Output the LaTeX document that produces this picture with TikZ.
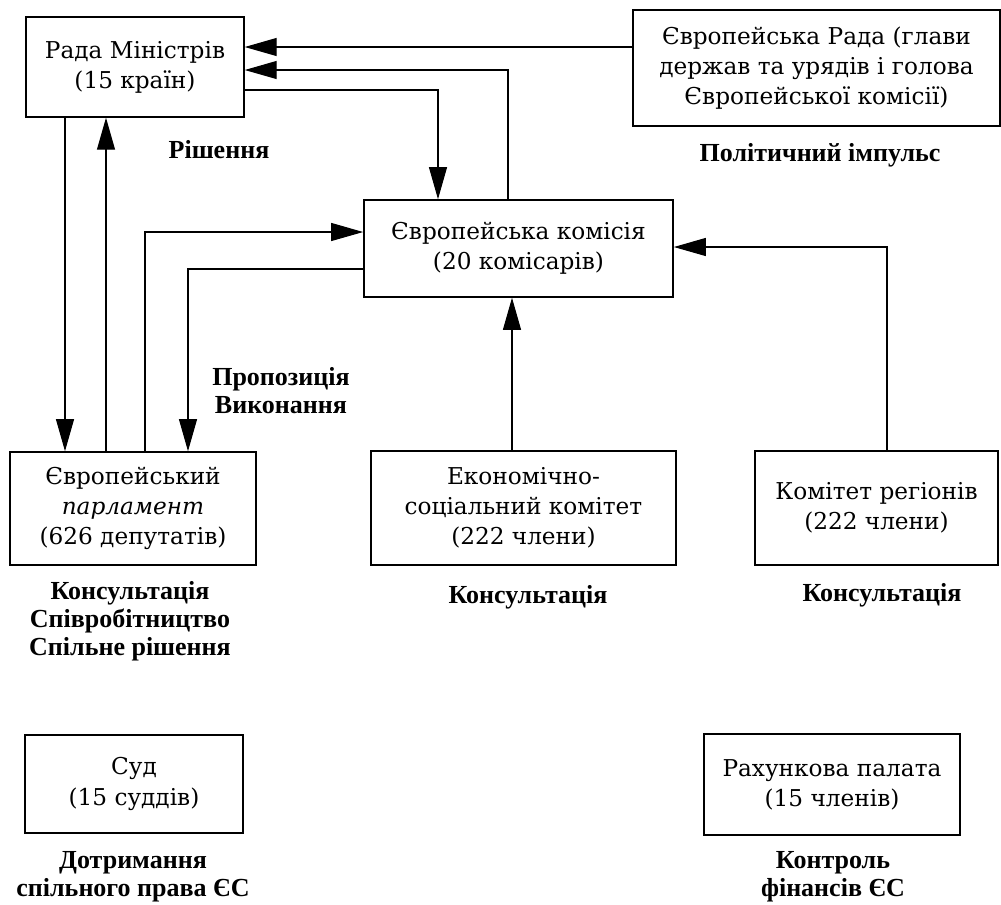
\documentclass[tikz,border=0pt]{standalone}
\usepackage{fontspec}
\setmainfont{DejaVu Serif}
\newfontfamily\labelfont{Liberation Serif}
\usetikzlibrary{arrows.meta}

\begin{document}
\begin{tikzpicture}[
        x=0.025cm,
        y=-0.025cm,
        box/.style={
            draw,
            rectangle,
            line width=1pt,
            inner sep=2pt,
            align=center,
            font=\fontsize{16.5}{21.5}\selectfont
        },
        note/.style={
            align=center,
            font=\labelfont\bfseries\fontsize{18.5}{20}\selectfont
        },
        arrow/.style={
            -{Triangle[length=0.8cm,width=0.45cm]},
            thick
        }
    ]

    \useasboundingbox (0,0) rectangle (1001,904);

    % institutions
    \node[box, minimum width=5.45cm, minimum height=2.5cm] (rada) at (135,67) {Рада Міністрів \\ (15 країн)};
    \node[box, minimum width=9.18cm, minimum height=2.9cm] (eurorada) at (816.5,68) {Європейська Рада (глави \\ держав та урядів і голова \\ Європейської комісії)};
    \node[box, minimum width=7.73cm, minimum height=2.43cm] (komisiya) at (518.5,248.5) {Європейська комісія \\ (20 комісарів)};
    \node[box, minimum width=6.15cm, minimum height=2.83cm] (parlament) at (133,508.5) {Європейський \\ \textit{парламент} \\ (626 депутатів)};
    \node[box, minimum width=7.63cm, minimum height=2.85cm] (ekonom) at (523.5,508) {Економічно- \\ соціальний комітет \\ (222 члени)};
    \node[box, minimum width=6.08cm, minimum height=2.85cm] (regiony) at (876.5,508) {Комітет регіонів \\ (222 члени)};
    \node[box, minimum width=5.45cm, minimum height=2.45cm] (sud) at (134,784) {Суд \\ (15 суддів)};
    \node[box, minimum width=6.4cm, minimum height=2.53cm] (palata) at (832,784.5) {Рахункова палата \\ (15 членів)};

    % roles
    \node[note] (rishennya) at (219,150) {Рішення};
    \node[note] (propozytsiya) at (281,391) {Пропозиція \\ Виконання};
    \node[note] (impuls) at (820,155) {Політичний імпульс};
    \node[note] (parlrole) at (130,621) {Консультація \\ Співробітництво \\ Спільне рішення};
    \node[note] (ekonomrole) at (528,597) {Консультація};
    \node[note] (regionrole) at (882,595) {Консультація};
    \node[note] (sudrole) at (133,877) {Дотримання \\ спільного права ЄС};
    \node[note] (palatarole) at (833,877) {Контроль \\ фінансів ЄС};

    % links
    \draw[arrow] (eurorada.west |- 0,47) -- (rada.east |- 0,47);
    \draw[arrow] (komisiya.north -| 508,0) |- (rada.east |- 0,70);
    \draw[arrow] (rada.east |- 0,90) -| (komisiya.north -| 438,0);
    \draw[arrow] (rada.south -| 65,0) -- (parlament.north -| 65,0);
    \draw[arrow] (parlament.north -| 106,0) -- (rada.south -| 106,0);
    \draw[arrow] (parlament.north -| 145,0) |- (komisiya.west |- 0,232);
    \draw[arrow] (komisiya.west |- 0,269) -| (parlament.north -| 188,0);
    \draw[arrow] (ekonom.north -| 512,0) -- (komisiya.south -| 512,0);
    \draw[arrow] (regiony.north -| 887,0) |- (komisiya.east |- 0,247);

\end{tikzpicture}
\end{document}
